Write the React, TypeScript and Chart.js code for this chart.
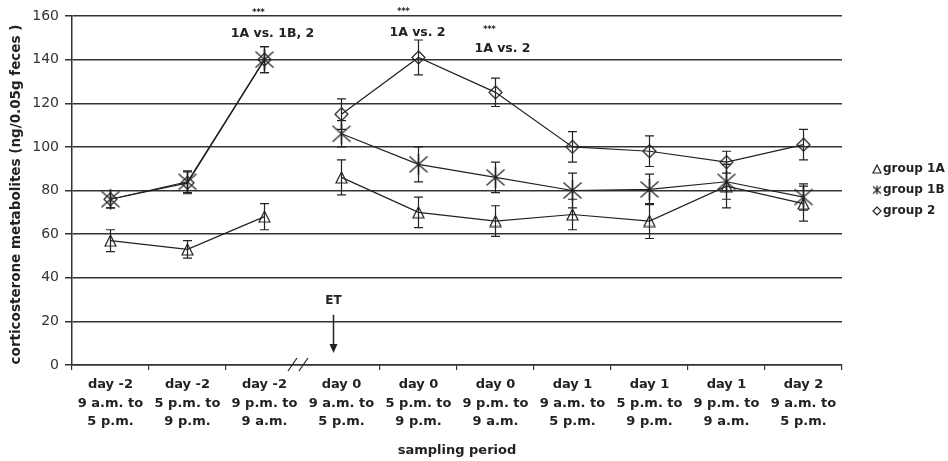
import React, { useEffect, useRef } from "react";
import { Chart, registerables } from "chart.js";
Chart.register(...registerables);

const categories: string[][] = [
  ["day -2", "9 a.m. to", "5 p.m."],
  ["day -2", "5 p.m. to", "9 p.m."],
  ["day -2", "9 p.m. to", "9 a.m."],
  ["day 0", "9 a.m. to", "5 p.m."],
  ["day 0", "5 p.m. to", "9 p.m."],
  ["day 0", "9 p.m. to", "9 a.m."],
  ["day 1", "9 a.m. to", "5 p.m."],
  ["day 1", "5 p.m. to", "9 p.m."],
  ["day 1", "9 p.m. to", "9 a.m."],
  ["day 2", "9 a.m. to", "5 p.m."],
];

const group1A = [57, 53, 68, 86, 70, 66, 69, 66, 82, 74];
const group1AErr = [5, 4, 6, 8, 7, 7, 7, 8, 10, 8];
const group1B = [76, 84, 140, 106, 92, 86, 80, 80.5, 84, 77];
const group1BErr = [4, 5, 6, 6, 8, 7, 8, 7, 8, 6];
const group2 = [76, 83.5, 140, 115, 141, 125, 100, 98, 93, 101];
const group2Err = [4, 5, 6, 7, 8, 6.5, 7, 7, 5, 7];

const yTicksMin = 0;
const yTicksMax = 160;
const yTickStep = 20;

const legendLabels = ["group 1A", "group 1B", "group 2"];
const annotationTexts = ["1A vs. 1B, 2", "1A vs. 2", "1A vs. 2"];
const annotationStars = ["***", "***", "***"];
const breakAfterIndex = 2;
const etIndex = 3;

const FONT = "'DejaVu Sans', 'Liberation Sans', Arial, sans-serif";
const INK = "#222";

function makeCanvas(w: number, h: number, draw: (c: CanvasRenderingContext2D) => void) {
  const cv = document.createElement("canvas");
  cv.width = w;
  cv.height = h;
  const c = cv.getContext("2d")!;
  c.strokeStyle = INK;
  c.lineWidth = 1.2;
  draw(c);
  return cv;
}

function triangleMarker(s: number) {
  return makeCanvas(s + 2, s + 2, (c) => {
    c.beginPath();
    c.moveTo((s + 2) / 2, 1);
    c.lineTo(s + 1, s + 1);
    c.lineTo(1, s + 1);
    c.closePath();
    c.stroke();
  });
}
function asteriskMarker(w: number, h: number) {
  return makeCanvas(w + 2, h + 2, (c) => {
    const cx = (w + 2) / 2;
    c.beginPath();
    c.moveTo(cx, 1);
    c.lineTo(cx, h + 1);
    c.moveTo(1, 1 + h * 0.12);
    c.lineTo(w + 1, 1 + h * 0.88);
    c.moveTo(w + 1, 1 + h * 0.12);
    c.lineTo(1, 1 + h * 0.88);
    c.stroke();
  });
}
function diamondMarker(s: number) {
  return makeCanvas(s + 2, s + 2, (c) => {
    const m = (s + 2) / 2;
    c.beginPath();
    c.moveTo(m, 1);
    c.lineTo(s + 1, m);
    c.lineTo(m, s + 1);
    c.lineTo(1, m);
    c.closePath();
    c.stroke();
  });
}

export default function App() {
  const ref = useRef<HTMLCanvasElement | null>(null);

  useEffect(() => {
    const canvas = ref.current!;
    const tri = triangleMarker(11);
    const ast = asteriskMarker(18, 21);
    const dia = diamondMarker(13);
    const triS = triangleMarker(8);
    const astS = asteriskMarker(8, 9);
    const diaS = diamondMarker(8);
    const errs = [group1AErr, group1BErr, group2Err];
    const legendIcons = [triS, astS, diaS];

    const overlay = {
      id: "overlay",
      afterDatasetsDraw(chart: any) {
        const { ctx, scales } = chart;
        const xs = scales.x;
        const ys = scales.y;
        ctx.save();
        ctx.strokeStyle = INK;
        ctx.lineWidth = 1.2;
        chart.data.datasets.forEach((ds: any, di: number) => {
          ds.data.forEach((v: number, i: number) => {
            const e = errs[di][i];
            if (v == null || e == null) return;
            const x = xs.getPixelForValue(i);
            const t = ys.getPixelForValue(v + e);
            const b = ys.getPixelForValue(v - e);
            ctx.beginPath();
            ctx.moveTo(x, t);
            ctx.lineTo(x, b);
            ctx.moveTo(x - 4.5, t);
            ctx.lineTo(x + 4.5, t);
            ctx.moveTo(x - 4.5, b);
            ctx.lineTo(x + 4.5, b);
            ctx.stroke();
          });
        });
        ctx.restore();
      },
      afterDraw(chart: any) {
        const { ctx, scales, chartArea } = chart;
        const xs = scales.x;
        const ys = scales.y;
        ctx.save();
        ctx.fillStyle = INK;
        ctx.strokeStyle = INK;

        // significance annotations
        const annIdx = [2, 4, 5];
        const annDx = [8, -1, 7];
        const annVal = [152, 152.5, 145];
        const starDx = [-14, -14, -13];
        const starVal = [161.5, 162, 153.5];
        ctx.textAlign = "center";
        ctx.textBaseline = "middle";
        annIdx.forEach((idx, k) => {
          const x = xs.getPixelForValue(idx);
          ctx.font = `bold 12.5px ${FONT}`;
          ctx.fillText(annotationTexts[k], x + annDx[k], ys.getPixelForValue(annVal[k]));
          ctx.font = `bold 8px ${FONT}`;
          ctx.fillText(annotationStars[k], x + annDx[k] + starDx[k], ys.getPixelForValue(starVal[k]));
        });

        // ET arrow
        const ex = xs.getPixelForValue(etIndex) - 8;
        ctx.font = `bold 12px ${FONT}`;
        ctx.fillText("ET", ex, ys.getPixelForValue(29.5));
        const yTop = ys.getPixelForValue(23);
        const yTip = ys.getPixelForValue(5.5);
        ctx.lineWidth = 1.5;
        ctx.beginPath();
        ctx.moveTo(ex, yTop);
        ctx.lineTo(ex, yTip - 6);
        ctx.stroke();
        ctx.beginPath();
        ctx.moveTo(ex - 4, yTip - 9);
        ctx.lineTo(ex + 4, yTip - 9);
        ctx.lineTo(ex, yTip);
        ctx.closePath();
        ctx.fill();

        // axis break mark
        const bx = (xs.getPixelForValue(breakAfterIndex) + xs.getPixelForValue(breakAfterIndex + 1)) / 2;
        const by = chartArea.bottom;
        ctx.lineWidth = 1.2;
        ctx.beginPath();
        ctx.moveTo(bx - 15, by + 6);
        ctx.lineTo(bx - 6, by - 7);
        ctx.moveTo(bx - 4, by + 6);
        ctx.lineTo(bx + 5, by - 7);
        ctx.stroke();

        // y title
        ctx.save();
        ctx.translate(16, (chartArea.top + chartArea.bottom) / 2 + 4);
        ctx.rotate(-Math.PI / 2);
        ctx.font = `bold 13.5px ${FONT}`;
        ctx.fillText("corticosterone metabolites (ng/0.05g feces )", 0, 0);
        ctx.restore();

        // x title
        ctx.font = `bold 13px ${FONT}`;
        ctx.fillText("sampling period", (chartArea.left + chartArea.right) / 2, 451);

        // legend
        ctx.textAlign = "left";
        ctx.font = `bold 12px ${FONT}`;
        const rows = [169, 190, 211];
        legendLabels.forEach((lab, k) => {
          const ic = legendIcons[k];
          const mx = chartArea.right + 35;
          ctx.drawImage(ic, mx - ic.width / 2, rows[k] - ic.height / 2);
          ctx.fillText(lab, chartArea.right + 41, rows[k]);
        });
        ctx.restore();
      },
    };

    const seg = {
      borderColor: (c: any) => (c.p0DataIndex === breakAfterIndex ? "rgba(0,0,0,0)" : INK),
    };

    const chart = new Chart(canvas, {
      type: "line",
      data: {
        labels: categories,
        datasets: [
          { label: legendLabels[0], data: group1A, borderColor: INK, borderWidth: 1.2, pointStyle: tri as any, pointRadius: 6, segment: seg },
          { label: legendLabels[1], data: group1B, borderColor: INK, borderWidth: 1.2, pointStyle: ast as any, pointRadius: 10, segment: seg },
          { label: legendLabels[2], data: group2, borderColor: INK, borderWidth: 1.2, pointStyle: dia as any, pointRadius: 7, segment: seg },
        ],
      },
      options: {
        responsive: false,
        devicePixelRatio: 1,
        animation: false,
        layout: { padding: { top: 16, right: 106, left: 0, bottom: 0 } },
        plugins: { legend: { display: false }, tooltip: { enabled: false } },
        scales: {
          x: {
            type: "category",
            offset: true,
            grid: {
              offset: true,
              drawOnChartArea: false,
              tickLength: 5,
              color: (c: any) => (c.index === breakAfterIndex + 1 ? "rgba(0,0,0,0)" : "#333"),
              lineWidth: 1.2,
            },
            border: { display: true, color: "#333", width: 1.5 },
            ticks: {
              font: { family: FONT, size: 13, weight: "bold", lineHeight: 1.4 },
              color: INK,
              maxRotation: 0,
              autoSkip: false,
              padding: 6,
            },
            afterFit: (s: any) => {
              s.height = 96;
            },
          },
          y: {
            min: yTicksMin,
            max: yTicksMax,
            ticks: {
              stepSize: yTickStep,
              font: { family: FONT, size: 14 },
              color: "#333",
              padding: 6,
            },
            grid: { color: "#333", lineWidth: 1.5, tickLength: 7 },
            border: { display: true, color: "#333", width: 1.5 },
            afterFit: (s: any) => {
              s.width = 72;
            },
          },
        },
      },
      plugins: [overlay],
    });
    return () => chart.destroy();
  }, []);

  return (
    <div style={{ position: "absolute", left: 0, top: 0, width: 948, height: 461, background: "#fff" }}>
      <canvas ref={ref} width={948} height={461} style={{ display: "block" }} />
    </div>
  );
}
